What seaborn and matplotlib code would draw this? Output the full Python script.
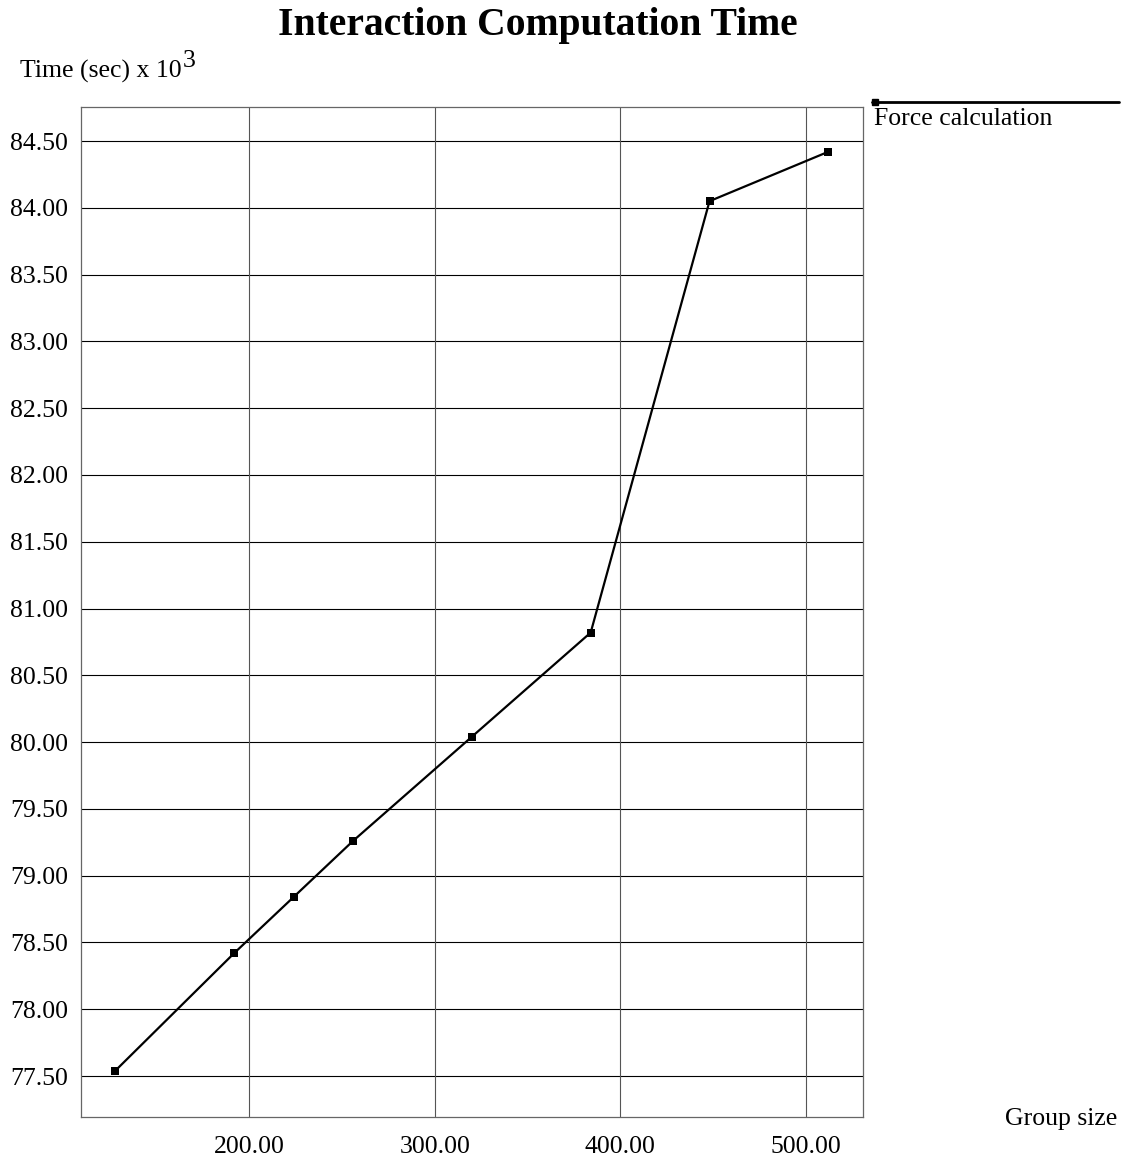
import matplotlib
matplotlib.use("Agg")
import matplotlib.pyplot as plt
from matplotlib.lines import Line2D
import seaborn as sns
import pandas as pd

group_size = [128, 192, 224, 256, 320, 384, 448, 512]
time_k = [77.54, 78.42, 78.84, 79.26, 80.04, 80.82, 84.05, 84.42]
x_ticks = [200, 300, 400, 500]
y_ticks = [77.5, 78.0, 78.5, 79.0, 79.5, 80.0, 80.5, 81.0, 81.5, 82.0, 82.5, 83.0, 83.5, 84.0, 84.5]
series_name = "Force calculation"

sns.set_theme(style="white")
plt.rcParams["font.family"] = ["Liberation Serif", "DejaVu Serif"]
plt.rcParams["text.color"] = "black"
plt.rcParams["xtick.color"] = "black"
plt.rcParams["ytick.color"] = "black"

df = pd.DataFrame({"Group size": group_size, "Time": time_k})

fig = plt.figure(figsize=(11.22, 11.58), dpi=100)
ax = fig.add_axes([0.0722, 0.0354, 0.6967, 0.8722])

sns.lineplot(data=df, x="Group size", y="Time", ax=ax, color="black",
             linewidth=1.6, marker="s", markersize=5.5, markeredgewidth=0,
             markerfacecolor="black")

ax.set_xlim(109.5, 530.5)
ax.set_ylim(77.193, 84.755)
ax.set_xticks(x_ticks)
ax.set_yticks(y_ticks)
ax.set_xticklabels([f"{v:.2f}" for v in x_ticks], fontsize=18.5, color="black")
ax.set_yticklabels([f"{v:.2f}" for v in y_ticks], fontsize=18.5, color="black")
ax.tick_params(axis="y", length=0, pad=9.5)
ax.tick_params(axis="x", length=0, pad=14)
ax.set_xlabel("")
ax.set_ylabel("")

for v in y_ticks:
    ax.axhline(v, color="black", linewidth=0.8, zorder=0)
for v in x_ticks:
    ax.axvline(v, color="#555555", linewidth=0.8, zorder=0)

for s in ax.spines.values():
    s.set_visible(True)
    s.set_color("#666666")
    s.set_linewidth(0.9)

fig.text(0.4795, 0.978, "Interaction Computation Time", ha="center", va="center",
         fontsize=28.5, fontweight="bold", color="black")
fig.text(0.018, 0.938, "Time (sec) x 10", ha="left", va="center", fontsize=18.5, color="black")
fig.text(0.1625, 0.947, "3", ha="left", va="center", fontsize=18.5, color="black")
fig.text(0.996, 0.0335, "Group size", ha="right", va="center", fontsize=18.5, color="black")

# legend entry: line with square marker above the label
fig.add_artist(Line2D([0.7775, 0.997], [0.912, 0.912], color="black",
                      linewidth=2, transform=fig.transFigure))
fig.add_artist(Line2D([0.7795], [0.912], color="black", marker="s",
                      markersize=5, linestyle="none", transform=fig.transFigure))
fig.text(0.779, 0.8975, series_name, ha="left", va="center", fontsize=18.5, color="black")

fig.savefig("out.png", dpi=100)
